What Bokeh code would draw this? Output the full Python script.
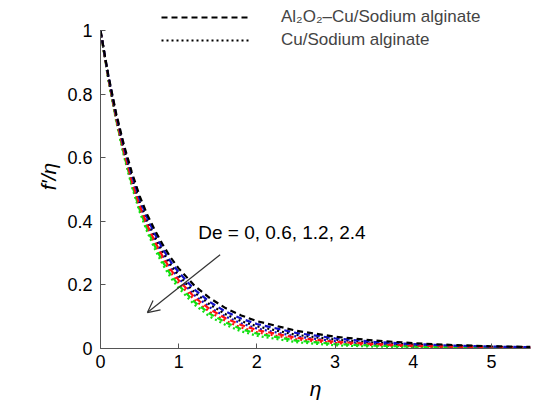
from bokeh.plotting import figure
from bokeh.models import Range1d, Legend, LegendItem, Arrow, OpenHead, Label, FixedTicker
from bokeh.embed import file_html
from bokeh.resources import INLINE

eta = [0, 0.1, 0.2, 0.3, 0.4, 0.5, 0.6, 0.7, 0.8, 0.9, 1.0, 1.2, 1.4, 1.6, 1.8, 2.0, 2.5, 3.0, 3.5, 4.0, 4.5, 5.0, 5.5]

# Al2O2-Cu/Sodium alginate (dashed), De = 0, 0.6, 1.2, 2.4
hyb_de0 = [1.0, 0.86, 0.74, 0.64, 0.555, 0.48, 0.42, 0.37, 0.325, 0.285, 0.252, 0.198, 0.158, 0.127, 0.104, 0.086, 0.056, 0.037, 0.025, 0.017, 0.011, 0.007, 0.005]
hyb_de06 = [1.0, 0.857, 0.735, 0.633, 0.546, 0.47, 0.409, 0.358, 0.312, 0.272, 0.24, 0.186, 0.146, 0.116, 0.094, 0.077, 0.049, 0.032, 0.021, 0.014, 0.009, 0.006, 0.004]
hyb_de12 = [1.0, 0.851, 0.725, 0.619, 0.528, 0.45, 0.387, 0.334, 0.287, 0.247, 0.215, 0.162, 0.123, 0.095, 0.074, 0.058, 0.034, 0.021, 0.014, 0.009, 0.006, 0.003, 0.003]
hyb_de24 = [1.0, 0.847, 0.719, 0.61, 0.517, 0.437, 0.373, 0.319, 0.271, 0.231, 0.199, 0.147, 0.109, 0.082, 0.061, 0.047, 0.025, 0.014, 0.009, 0.006, 0.003, 0.002, 0.002]

# Cu/Sodium alginate (dotted)
cu_de0 = [1.0, 0.855, 0.731, 0.628, 0.539, 0.462, 0.401, 0.349, 0.303, 0.263, 0.23, 0.177, 0.138, 0.108, 0.086, 0.07, 0.043, 0.028, 0.018, 0.012, 0.008, 0.005, 0.004]
cu_de06 = [1.0, 0.852, 0.727, 0.622, 0.532, 0.455, 0.392, 0.34, 0.293, 0.253, 0.221, 0.168, 0.129, 0.1, 0.079, 0.063, 0.038, 0.023, 0.015, 0.01, 0.006, 0.004, 0.003]
cu_de12 = [1.0, 0.849, 0.721, 0.614, 0.521, 0.442, 0.379, 0.325, 0.278, 0.238, 0.205, 0.153, 0.114, 0.087, 0.066, 0.051, 0.029, 0.017, 0.011, 0.007, 0.004, 0.002, 0.002]
cu_de24 = [1.0, 0.845, 0.715, 0.605, 0.51, 0.43, 0.365, 0.31, 0.262, 0.222, 0.19, 0.138, 0.1, 0.074, 0.054, 0.04, 0.02, 0.01, 0.006, 0.004, 0.002, 0.001, 0.001]

colors = ["#000000", "#1010c8", "#ff1010", "#10e010"]
x_ticks = [0, 1, 2, 3, 4, 5]
y_ticks = [0, 0.2, 0.4, 0.6, 0.8, 1]
y_labels = {0: "0", 0.2: "0.2", 0.4: "0.4", 0.6: "0.6", 0.8: "0.8", 1: "1"}
legend_labels = ["Al\u2082O\u2082\u2013Cu/Sodium alginate", "Cu/Sodium alginate"]
annot_text = "De = 0, 0.6, 1.2, 2.4"

FONT = "Liberation Sans"

p = figure(width=539, height=402, output_backend="svg", toolbar_location=None,
           x_range=Range1d(0, 5.5), y_range=Range1d(0, 1.0818),
           min_border_left=100, min_border_right=9, min_border_top=4, min_border_bottom=54)
p.outline_line_color = None
p.grid.visible = False
p.background_fill_color = "white"

hyb = [hyb_de0, hyb_de06, hyb_de12, hyb_de24]
cu = [cu_de0, cu_de06, cu_de12, cu_de24]

# draw dotted first, then dashed
cu_r = []
for ys, c in zip(cu[::-1], colors[::-1]):
    cu_r.append(p.line(eta, ys, line_color=c, line_width=2.2, line_dash="2 3"))
hyb_r = []
for ys, c in zip(hyb[::-1], colors[::-1]):
    hyb_r.append(p.line(eta, ys, line_color=c, line_width=2.2, line_dash="6 4"))

black_dash = hyb_r[-1]
black_dot = cu_r[-1]

legend = Legend(items=[LegendItem(label=legend_labels[0], renderers=[black_dash]),
                       LegendItem(label=legend_labels[1], renderers=[black_dot])],
                location=(61, 298), border_line_color=None, background_fill_alpha=0,
                label_text_font=FONT, label_text_font_size="17px",
                glyph_width=88, glyph_height=20, label_standoff=32, spacing=3,
                padding=0, margin=0, label_height=20)
p.add_layout(legend)

p.add_layout(Arrow(end=OpenHead(size=12, line_color="#333333", line_width=1.2),
                   x_start=1.53, y_start=0.295, x_end=0.60, y_end=0.113,
                   line_color="#333333", line_width=1.2))
p.add_layout(Label(x=1.25, y=0.365, text=annot_text, text_font=FONT,
                   text_font_size="19px", text_baseline="middle", text_color="black"))

for ax in (p.xaxis[0], p.yaxis[0]):
    ax.axis_line_color = "#555555"
    ax.major_tick_line_color = "#555555"
    ax.major_tick_in = 5
    ax.major_tick_out = 0
    ax.minor_tick_line_color = None
    ax.major_label_text_font = FONT
    ax.major_label_text_font_size = "18px"
    ax.major_label_text_color = "black"
    ax.axis_label_text_font = FONT
    ax.axis_label_text_font_style = "italic"
    ax.axis_label_text_font_size = "21px"
    ax.axis_label_text_color = "black"

p.xaxis.ticker = FixedTicker(ticks=x_ticks)
p.yaxis.ticker = FixedTicker(ticks=y_ticks)
p.yaxis.bounds = (0, 1)
p.yaxis.major_label_overrides = y_labels
p.xaxis.axis_label = "\u03b7"
p.yaxis.axis_label = "f\u2032/\u03b7"
p.xaxis.major_label_standoff = 6
p.yaxis.major_label_standoff = 8
p.xaxis.axis_label_standoff = 6
p.yaxis.axis_label_standoff = 4

open("out.html", "w").write(file_html(p, INLINE))
